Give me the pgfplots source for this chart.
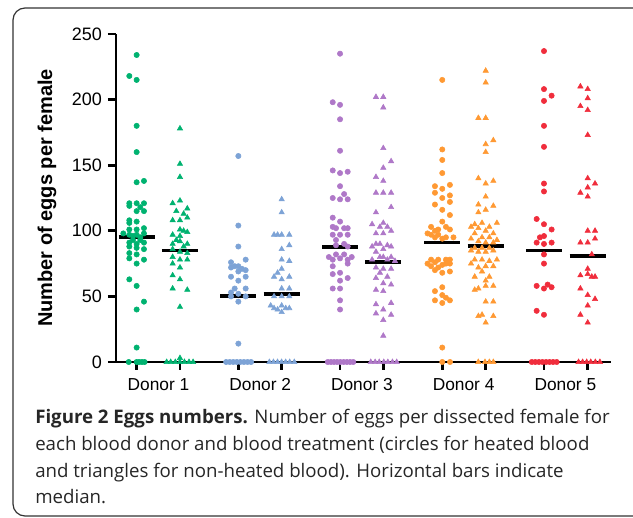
\documentclass[border=0pt]{standalone}
\usepackage{pgfplots}
\pgfplotsset{compat=1.18}
\usepackage{fontspec}
\setmainfont{Liberation Sans}
\newfontfamily\capfont{Open Sans}
\definecolor{cgreen}{RGB}{0,178,112}
\definecolor{cblue}{RGB}{125,163,214}
\definecolor{cpurple}{RGB}{175,120,200}
\definecolor{corange}{RGB}{255,153,51}
\definecolor{cred}{RGB}{240,45,60}
\begin{document}
\begin{tikzpicture}
\begin{axis}[
  scale only axis, width=371.25pt, height=246pt,
  xmin=0.582, xmax=5.449, ymin=0, ymax=250,
  clip=false,
  axis x line=bottom, axis y line=left,
  axis line style={-, line width=2.2pt, black},
  ytick={0,50,100,150,200,250},
  xtick={0.785,1.211,1.785,2.211,2.785,3.21,3.79,4.217,4.79,5.22},
  xticklabels={},
  extra x ticks={1,2,3,4,5},
  extra x tick labels={Donor 1,Donor 2,Donor 3,Donor 4,Donor 5},
  extra x tick style={major tick length=0pt, xticklabel style={yshift=-9pt}},
  tick align=outside, major tick length=6pt,
  tick style={line width=2pt, black},
  /pgf/number format/assume math mode=true,
  yticklabel style={font=\fontsize{13.5}{16}\selectfont, xshift=-1pt},
  xticklabel style={font=\fontsize{13}{16}\selectfont},
  ylabel={\textbf{Number of eggs per female}},
  every axis y label/.style={at={(axis description cs:0,0.5)}, xshift=-51.75pt, rotate=90, anchor=center, font=\fontsize{15}{18}\selectfont},
]
% Donor 1 circles
\addplot[only marks, mark=*, mark size=2pt, color=cgreen] coordinates {
(0.785,234)(0.713,218)(0.785,215)(0.785,180)(0.785,160)(0.785,137)(0.857,138)
(0.713,121)(0.713,119)(0.785,121)(0.857,121)(0.821,118)(0.785,115)(0.857,115)
(0.713,108)(0.713,106)(0.785,107)(0.713,101)(0.785,101)(0.857,102)
(0.654,98)(0.713,97)(0.749,96)(0.785,97)(0.857,98)(0.821,95)
(0.713,91)(0.785,90)(0.857,91)(0.749,93)(0.821,93)(0.713,88)(0.785,87)(0.857,86)
(0.713,83)(0.785,82)(0.713,79)(0.857,78)(0.785,75)
(0.713,63)(0.785,58)(0.857,46)(0.785,40)(0.785,11)
(0.707,0)(0.785,0)(0.810,0)(0.837,0)(0.863,0)};
% Donor 1 triangles
\addplot[only marks, mark=triangle*, mark size=2.3pt, color=cgreen] coordinates {
(1.211,178)(1.211,151)(1.211,141)
(1.139,121)(1.211,123)(1.283,117)(1.175,115)(1.247,113)(1.139,108)(1.211,108)(1.283,110)
(1.211,101)(1.247,100)(1.283,99)(1.139,97)(1.211,96)
(1.175,93)(1.139,90)(1.211,92)(1.283,90)(1.247,88)(1.139,86)(1.211,84)(1.283,83)
(1.139,80)(1.211,78)(1.283,78)(1.139,75)(1.211,72)(1.139,66)(1.211,63)(1.139,56)(1.283,55)(1.211,42)(1.211,3)
(1.08,0)(1.12,0)(1.165,0)(1.21,0)(1.255,0)(1.30,0)(1.34,0)};
% Donor 2 circles
\addplot[only marks, mark=*, mark size=2pt, color=cblue] coordinates {
(1.785,157)(1.785,104)(1.785,88)
(1.713,76)(1.857,78)(1.785,73)(1.821,71)(1.713,72)(1.749,73)(1.857,70)(1.785,69)
(1.713,65)(1.857,65)(1.785,62)
(1.713,53)(1.749,56)(1.857,56)(1.785,52)(1.713,50)(1.857,50)
(1.785,46)(1.785,14)
(1.665,0)(1.70,0)(1.735,0)(1.77,0)(1.805,0)(1.84,0)(1.875,0)(1.91,0)};
% Donor 2 triangles
\addplot[only marks, mark=triangle*, mark size=2.3pt, color=cblue] coordinates {
(2.211,124)(2.211,114)
(2.136,97)(2.171,97)(2.211,97)(2.286,97)
(2.286,89)(2.211,86)(2.211,78)(2.286,77)
(2.211,71)(2.171,68)(2.136,65)(2.286,65)(2.211,63)
(2.211,56)(2.286,56)(2.136,50)(2.211,50)(2.286,50)
(2.103,43)(2.136,41)(2.211,43)(2.251,41)(2.286,41)(2.171,40)(2.211,38)
(2.09,0)(2.13,0)(2.17,0)(2.21,0)(2.25,0)(2.29,0)(2.335,0)};
% Donor 3 circles
\addplot[only marks, mark=*, mark size=2pt, color=cpurple] coordinates {
(2.785,235)(2.713,198)(2.785,196)(2.785,185)(2.785,161)
(2.713,146)(2.785,144)(2.86,145)(2.785,134)
(2.713,125)(2.785,124)(2.86,124)(2.825,128)
(2.713,110)(2.785,107)(2.713,103)(2.745,102)(2.825,102)(2.86,102)
(2.713,97)(2.785,97)(2.86,97)(2.745,93)(2.825,90)(2.86,88)(2.745,89)
(2.675,80)(2.713,78)(2.785,79)(2.86,78)(2.745,82)(2.825,82)(2.90,80)
(2.713,73)(2.86,75)(2.785,68)(2.713,67)(2.86,64)(2.785,62)
(2.713,56)(2.785,56)(2.785,47)(2.785,40)
(2.664,0)(2.695,0)(2.726,0)(2.757,0)(2.788,0)(2.82,0)(2.852,0)(2.884,0)(2.915,0)};
% Donor 3 triangles
\addplot[only marks, mark=triangle*, mark size=2.3pt, color=cpurple] coordinates {
(3.138,202)(3.21,202)(3.21,194)(3.21,163)(3.21,148)(3.287,153)
(3.138,141)(3.21,138)(3.138,129)(3.21,129)(3.287,129)
(3.138,114)(3.287,118)
(3.10,105)(3.21,106)(3.177,103)(3.25,103)(3.287,100)(3.138,98)(3.21,98)
(3.10,88)(3.138,90)(3.177,90)(3.25,89)(3.287,88)(3.21,86)(3.138,84)
(3.21,80)(3.10,78)(3.177,80)(3.25,78)(3.325,77)(3.287,80)
(3.138,72)(3.21,71)(3.287,71)(3.177,68)(3.138,64)(3.25,65)(3.287,59)(3.21,60)
(3.138,55)(3.21,54)
(3.138,44)(3.287,45)(3.138,37)(3.21,40)(3.287,36)(3.21,32)(3.21,20)
(3.087,0)(3.13,0)(3.17,0)(3.215,0)(3.255,0)(3.30,0)(3.342,0)};
% Donor 4 circles
\addplot[only marks, mark=*, mark size=2pt, color=corange] coordinates {
(3.79,215)(3.79,162)(3.79,154)(3.79,144)
(3.718,134)(3.79,132)(3.865,135)
(3.718,129)(3.79,125)(3.865,127)(3.865,122)(3.718,120)(3.79,116)(3.865,112)
(3.79,107)
(3.68,103)(3.75,101)(3.826,103)(3.718,100)(3.865,101)(3.645,98)
(3.68,97)(3.75,97)(3.826,95)(3.90,95)(3.718,95)(3.79,94)
(3.68,78)(3.75,78)(3.826,78)(3.865,78)(3.718,76)(3.79,74)(3.68,73)(3.75,72)(3.826,75)(3.865,75)(3.718,70)(3.79,68)(3.865,69)(3.645,75)
(3.79,57)(3.718,54)(3.79,51)(3.826,49)(3.865,47)(3.718,47)(3.79,45)
(3.79,11)
(3.79,0)(3.866,0)};
% Donor 4 triangles
\addplot[only marks, mark=triangle*, mark size=2.3pt, color=corange] coordinates {
(4.217,222)(4.217,213)(4.145,186)(4.217,186)(4.217,166)(4.292,169)(4.217,160)
(4.145,140)(4.217,136)(4.292,138)
(4.217,126)(4.145,120)(4.292,119)(4.217,116)(4.145,114)
(4.109,105)(4.181,106)(4.253,103)(4.327,106)(4.073,103)(4.145,102)(4.217,100)
(4.109,98)(4.181,95)(4.253,95)(4.292,98)(4.073,94)(4.145,92)(4.217,91)(4.292,91)(4.327,93)
(4.109,87)(4.181,87)(4.253,87)(4.073,85)(4.145,84)(4.217,84)(4.292,85)
(4.109,78)(4.181,78)(4.253,77)(4.327,78)(4.073,75)(4.145,72)(4.217,73)(4.292,73)
(4.181,69)(4.109,65)(4.253,65)(4.217,62)
(4.145,56)(4.217,58)(4.292,58)(4.109,55)
(4.217,46)(4.292,46)(4.145,35)(4.181,36)(4.292,35)(4.217,30)
(4.144,0)(4.21,0)(4.253,0)(4.292,0)};
% Donor 5 circles
\addplot[only marks, mark=*, mark size=2pt, color=cred] coordinates {
(4.79,237)(4.79,208)(4.865,203)(4.79,199)(4.79,180)(4.79,164)(4.79,136)(4.79,130)
(4.718,109)(4.79,105)(4.865,101)
(4.79,96)(4.75,95)(4.718,91)(4.79,90)(4.865,91)
(4.79,82)(4.79,75)
(4.718,58)(4.79,56)(4.826,59)(4.865,57)
(4.718,39)(4.79,36)
(4.67,0)(4.705,0)(4.74,0)(4.775,0)(4.81,0)(4.845,0)(4.88,0)(4.915,0)};
% Donor 5 triangles
\addplot[only marks, mark=triangle*, mark size=2.3pt, color=cred] coordinates {
(5.148,210)(5.22,208)(5.22,201)(5.148,195)(5.22,192)(5.22,173)
(5.22,140)(5.292,136)(5.22,133)(5.148,129)(5.22,126)
(5.22,100)(5.292,100)(5.292,94)(5.148,91)(5.22,91)
(5.26,82)
(5.22,71)(5.148,66)(5.22,67)(5.26,65)(5.292,65)
(5.148,56)(5.22,51)(5.292,48)(5.22,43)(5.148,36)(5.22,30)
(5.13,0)(5.17,0)(5.21,0)(5.25,0)(5.295,0)(5.34,0)};
% medians
\addplot[black, line width=2.9pt] coordinates {(0.608,95.5)(0.962,95.5)};
\addplot[black, line width=2.9pt] coordinates {(1.034,85)(1.388,85)};
\addplot[black, line width=2.9pt] coordinates {(1.608,50)(1.962,50)};
\addplot[black, line width=2.9pt] coordinates {(2.034,51.8)(2.388,51.8)};
\addplot[black, line width=2.9pt] coordinates {(2.608,87.6)(2.962,87.6)};
\addplot[black, line width=2.9pt] coordinates {(3.033,76.4)(3.387,76.4)};
\addplot[black, line width=2.9pt] coordinates {(3.613,91.1)(3.967,91.1)};
\addplot[black, line width=2.9pt] coordinates {(4.040,88.6)(4.394,88.6)};
\addplot[black, line width=2.9pt] coordinates {(4.613,85)(4.967,85)};
\addplot[black, line width=2.9pt] coordinates {(5.043,81)(5.397,81)};
\end{axis}
\draw[rounded corners=9pt, line width=0.9pt, color=black!80] (-77.25pt,-115.5pt) rectangle (400pt,265.5pt);
\node[anchor=base west, inner sep=0pt, align=left, color=black!85, font=\capfont\fontsize{14}{20}\selectfont] at (-60.75pt,-106.5pt)
  {\textbf{Figure 2 Eggs numbers.} Number of eggs per dissected female for\\
  each blood donor and blood treatment (circles for heated blood\\
  and triangles for non-heated blood). Horizontal bars indicate\\
  median.};
\pgfresetboundingbox
\path[use as bounding box] (-87pt,-117pt) rectangle (387.75pt,271.5pt);
\end{tikzpicture}
\end{document}
